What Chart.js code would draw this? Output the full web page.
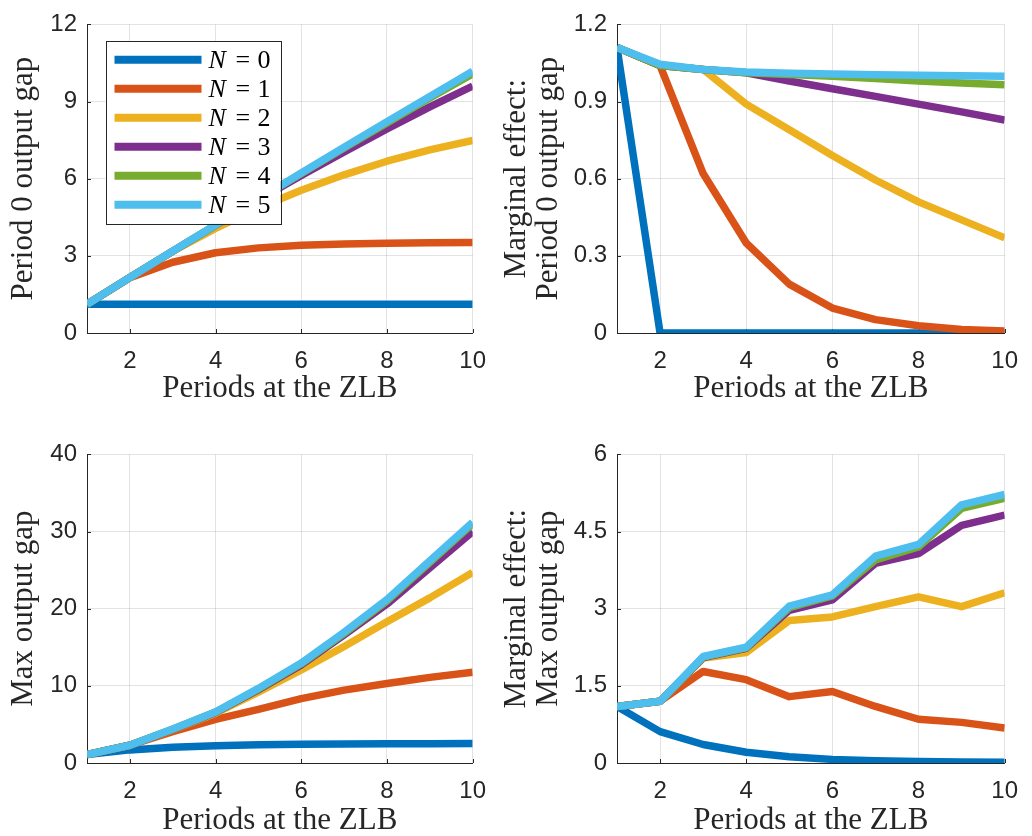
<!DOCTYPE html>
<html>
<head>
<meta charset="utf-8">
<script src="https://cdn.jsdelivr.net/npm/chart.js@4.4.1/dist/chart.umd.min.js"></script>
<style>
  html, body { margin: 0; padding: 0; background: #fff; overflow: hidden; }
  .panel { position: absolute; }
</style>
</head>
<body>
<div class="panel" style="left:0;top:0;width:500px;height:418px"><canvas id="chartP0"></canvas></div>
<div class="panel" style="left:500px;top:0;width:532px;height:418px"><canvas id="chartP0Marg"></canvas></div>
<div class="panel" style="left:0;top:430px;width:500px;height:406px"><canvas id="chartMax"></canvas></div>
<div class="panel" style="left:500px;top:430px;width:532px;height:406px"><canvas id="chartMaxMarg"></canvas></div>
<script>
// x values and series names
const periods = [1, 2, 3, 4, 5, 6, 7, 8, 9, 10];
const xTickVals = [2, 4, 6, 8, 10];
const seriesLabels = ['N = 0', 'N = 1', 'N = 2', 'N = 3', 'N = 4', 'N = 5'];

// period 0 output gap
const gap0N0 = [1.12, 1.12, 1.12, 1.12, 1.12, 1.12, 1.12, 1.12, 1.12, 1.12];
const gap0N1 = [1.12, 2.15, 2.75, 3.12, 3.31, 3.41, 3.46, 3.49, 3.51, 3.52];
const gap0N2 = [1.12, 2.16, 3.18, 4.07, 4.86, 5.55, 6.15, 6.68, 7.12, 7.49];
const gap0N3 = [1.12, 2.16, 3.18, 4.19, 5.17, 6.12, 7.04, 7.93, 8.79, 9.6];
const gap0N4 = [1.12, 2.16, 3.18, 4.19, 5.2, 6.2, 7.19, 8.17, 9.14, 10.08];
const gap0N5 = [1.12, 2.16, 3.19, 4.2, 5.21, 6.22, 7.22, 8.22, 9.2, 10.18];
const gap0Ticks = [0, 3, 6, 9, 12];
const gap0TickLabels = ['0', '3', '6', '9', '12'];

// marginal effect on period 0 output gap
const marg0N0 = [1.11, 0, 0, 0, 0, 0, 0, 0, 0, 0];
const marg0N1 = [1.11, 1.04, 0.62, 0.35, 0.19, 0.097, 0.052, 0.028, 0.014, 0.008];
const marg0N2 = [1.11, 1.04, 1.025, 0.89, 0.79, 0.69, 0.595, 0.51, 0.44, 0.37];
const marg0N3 = [1.11, 1.04, 1.025, 1.012, 0.98, 0.95, 0.92, 0.89, 0.86, 0.828];
const marg0N4 = [1.11, 1.04, 1.025, 1.012, 1.005, 0.998, 0.99, 0.98, 0.972, 0.965];
const marg0N5 = [1.11, 1.045, 1.025, 1.015, 1.01, 1.007, 1.004, 1.002, 1.0, 0.998];
const marg0Ticks = [0, 0.3, 0.6, 0.9, 1.2];
const marg0TickLabels = ['0', '0.3', '0.6', '0.9', '1.2'];

// max output gap
const maxN0 = [1.1, 1.7, 2.05, 2.25, 2.36, 2.43, 2.47, 2.49, 2.51, 2.52];
const maxN1 = [1.1, 2.3, 4.05, 5.65, 6.95, 8.35, 9.45, 10.3, 11.1, 11.75];
const maxN2 = [1.1, 2.3, 4.3, 6.45, 9.2, 12.05, 15.1, 18.3, 21.4, 24.7];
const maxN3 = [1.1, 2.3, 4.35, 6.55, 9.5, 12.7, 16.6, 20.6, 25.3, 30.0];
const maxN4 = [1.1, 2.3, 4.37, 6.6, 9.6, 12.85, 16.8, 21.0, 26.0, 31.0];
const maxN5 = [1.1, 2.3, 4.4, 6.62, 9.67, 12.95, 16.95, 21.2, 26.2, 31.2];
const maxTicks = [0, 10, 20, 30, 40];
const maxTickLabels = ['0', '10', '20', '30', '40'];

// marginal effect on max output gap
const margMaxN0 = [1.1, 0.61, 0.36, 0.21, 0.12, 0.07, 0.045, 0.03, 0.02, 0.015];
const margMaxN1 = [1.1, 1.2, 1.78, 1.62, 1.29, 1.39, 1.1, 0.85, 0.79, 0.68];
const margMaxN2 = [1.1, 1.2, 2.04, 2.15, 2.77, 2.84, 3.04, 3.23, 3.04, 3.31];
const margMaxN3 = [1.1, 1.2, 2.05, 2.23, 2.97, 3.17, 3.88, 4.07, 4.62, 4.82];
const margMaxN4 = [1.1, 1.2, 2.06, 2.24, 3.02, 3.25, 3.95, 4.2, 4.95, 5.15];
const margMaxN5 = [1.1, 1.2, 2.07, 2.25, 3.05, 3.27, 4.02, 4.25, 5.02, 5.22];
const margMaxTicks = [0, 1.5, 3, 4.5, 6];
const margMaxTickLabels = ['0', '1.5', '3', '4.5', '6'];

const lineColors = ['#0072BD', '#D95319', '#EDB120', '#7E2F8E', '#77AC30', '#4DBEEE'];
const axisColor = '#262626';
const gridColor = 'rgba(38,38,38,0.13)';
const tickFont = { family: 'Liberation Sans', size: 24 };
const titleFont = { family: 'Liberation Serif', size: 31, lineHeight: 1.06 };

// inward tick marks + legend box drawn inside the plot
const zlbDecor = {
  id: 'zlbDecor',
  beforeDatasetsDraw(chart) {
    const { ctx, chartArea: a, scales: { x, y } } = chart;
    ctx.save();
    ctx.strokeStyle = axisColor;
    ctx.lineWidth = 1;
    ctx.beginPath();
    x.ticks.forEach(t => {
      const px = Math.round(x.getPixelForValue(t.value)) + 0.5;
      ctx.moveTo(px, a.bottom);
      ctx.lineTo(px, a.bottom - 4);
    });
    y.ticks.forEach(t => {
      const py = Math.round(y.getPixelForValue(t.value)) + 0.5;
      ctx.moveTo(a.left, py);
      ctx.lineTo(a.left + 4, py);
    });
    ctx.stroke();
    ctx.restore();
  },
  afterDatasetsDraw(chart, args, opts) {
    if (!opts.show) return;
    const { ctx, chartArea: a } = chart;
    const bx = a.left + 18.5, by = a.top + 16.5, bw = 175, bh = 183;
    ctx.save();
    ctx.fillStyle = '#fff';
    ctx.fillRect(bx, by, bw, bh);
    ctx.strokeStyle = axisColor;
    ctx.lineWidth = 1;
    ctx.strokeRect(Math.round(bx) + 0.5, Math.round(by) + 0.5, bw, bh);
    chart.data.datasets.forEach((ds, i) => {
      const ry = by + 18.8 + i * 29;
      ctx.strokeStyle = ds.borderColor;
      ctx.lineWidth = 8;
      ctx.lineCap = 'butt';
      ctx.beginPath();
      ctx.moveTo(bx + 9, ry);
      ctx.lineTo(bx + 96, ry);
      ctx.stroke();
      const parts = ds.label.split(' = ');
      ctx.fillStyle = '#000';
      ctx.textBaseline = 'middle';
      ctx.font = 'italic 26px "Liberation Serif"';
      ctx.fillText(parts[0], bx + 103, ry + 1);
      ctx.font = '26px "Liberation Serif"';
      ctx.fillText('=', bx + 130, ry + 1);
      ctx.fillText(parts[1], bx + 152, ry + 1);
    });
    ctx.restore();
  }
};

function makeChart(id, series, yTicks, yLabels, yTitle, opt) {
  return new Chart(document.getElementById(id), {
    type: 'line',
    data: {
      datasets: series.map((s, i) => ({
        label: seriesLabels[i],
        data: s.map((v, k) => ({ x: periods[k], y: v })),
        borderColor: lineColors[i],
        backgroundColor: lineColors[i],
        borderWidth: 7.5,
        pointRadius: 0,
        tension: 0,
        borderJoinStyle: 'round',
        borderCapStyle: 'butt',
        order: series.length - i
      }))
    },
    options: {
      responsive: true,
      maintainAspectRatio: false,
      animation: false,
      events: [],
      layout: { padding: { left: 0, top: opt.top, right: opt.right, bottom: 0 } },
      plugins: {
        legend: { display: false },
        tooltip: { enabled: false },
        zlbDecor: { show: !!opt.legend }
      },
      scales: {
        x: {
          type: 'linear',
          min: 1,
          max: 10,
          afterBuildTicks: s => { s.ticks = xTickVals.map(v => ({ value: v })); },
          afterFit: s => { s.height = opt.xAxisH; },
          grid: { color: gridColor, drawTicks: false },
          border: { color: axisColor, width: 1 },
          ticks: { font: tickFont, color: axisColor, padding: 14, maxRotation: 0, autoSkip: false, callback: v => String(v) },
          title: { display: true, text: 'Periods at the ZLB', font: titleFont, color: axisColor, padding: { top: 0, bottom: opt.xTitlePad } }
        },
        y: {
          min: yTicks[0],
          max: yTicks[yTicks.length - 1],
          afterBuildTicks: s => { s.ticks = yTicks.map(v => ({ value: v })); },
          afterFit: s => { s.width = opt.yAxisW; },
          grid: { color: gridColor, drawTicks: false },
          border: { color: axisColor, width: 1 },
          ticks: { font: tickFont, color: axisColor, padding: 10, autoSkip: false, callback: (v, i) => yLabels[i] },
          title: { display: true, text: yTitle, font: titleFont, color: axisColor, padding: { top: opt.yTitlePad, bottom: 0 } }
        }
      }
    },
    plugins: [zlbDecor]
  });
}

makeChart('chartP0', [gap0N0, gap0N1, gap0N2, gap0N3, gap0N4, gap0N5], gap0Ticks, gap0TickLabels,
  'Period 0 output gap', { top: 24, right: 17, xAxisH: 85, yAxisW: 87, xTitlePad: 13, yTitlePad: 7, legend: true });
makeChart('chartP0Marg', [marg0N0, marg0N1, marg0N2, marg0N3, marg0N4, marg0N5], marg0Ticks, marg0TickLabels,
  ['Marginal effect:', 'Period 0 output gap'], { top: 24, right: 25, xAxisH: 85, yAxisW: 117, xTitlePad: 13, yTitlePad: 0 });
makeChart('chartMax', [maxN0, maxN1, maxN2, maxN3, maxN4, maxN5], maxTicks, maxTickLabels,
  'Max output gap', { top: 24, right: 17, xAxisH: 73, yAxisW: 87, xTitlePad: -1, yTitlePad: 7 });
makeChart('chartMaxMarg', [margMaxN0, margMaxN1, margMaxN2, margMaxN3, margMaxN4, margMaxN5], margMaxTicks, margMaxTickLabels,
  ['Marginal effect:', 'Max output gap'], { top: 24, right: 25, xAxisH: 73, yAxisW: 117, xTitlePad: -1, yTitlePad: 0 });
</script>
</body>
</html>
